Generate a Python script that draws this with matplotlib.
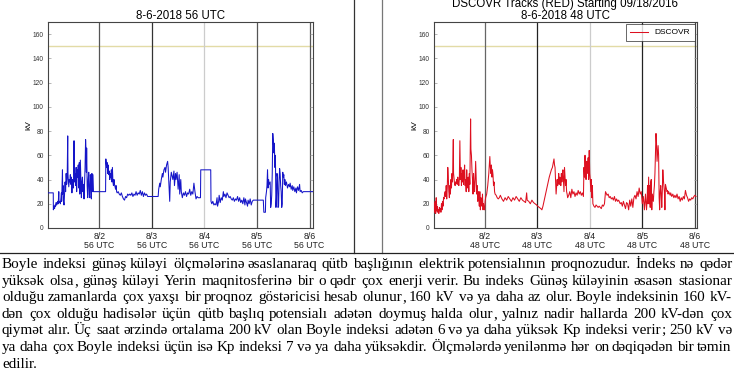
import matplotlib
matplotlib.use("Agg")
import matplotlib.pyplot as plt

# ---------------- data ----------------
tick_pos = [1, 2, 3, 4, 5]
tick_days = ["8/2", "8/3", "8/4", "8/5", "8/6"]
left_title = "8-6-2018 56 UTC"
right_title = "DSCOVR Tracks (RED) Starting 09/18/2016\n8-6-2018 48 UTC"
left_suffix = "56 UTC"
right_suffix = "48 UTC"
threshold = 150
ylabel = "kV"
legend_label = "DSCOVR"

blue_t = [0.03, 0.125, 0.127, 0.14, 0.15, 0.16, 0.17, 0.18, 0.19, 0.20, 0.21, 0.22, 0.23, 0.235, 0.25,
          0.26, 0.27, 0.28, 0.285, 0.29, 0.30, 0.305, 0.31, 0.32, 0.33, 0.34, 0.35, 0.36, 0.37, 0.38,
          0.39, 0.40, 0.405, 0.41, 0.42, 0.43, 0.44, 0.45, 0.46, 0.47, 0.48, 0.49, 0.50, 0.51, 0.52,
          0.525, 0.53, 0.54, 0.55, 0.56, 0.57, 0.58, 0.59, 0.60, 0.61, 0.62, 0.63, 0.64, 0.65, 0.66,
          0.67, 0.68, 0.69, 0.70, 0.71, 0.72, 0.73, 0.74, 0.75, 0.755, 0.76, 0.77, 0.78, 0.79, 0.80,
          0.81, 0.82, 0.83, 0.84, 0.85, 0.86, 0.87, 0.88, 0.89, 0.94, 1.12, 1.125, 1.14, 1.15, 1.16,
          1.17, 1.18, 1.19, 1.20, 1.21, 1.22, 1.23, 1.24, 1.25, 1.26, 1.27, 1.28, 1.29, 1.30, 1.31,
          1.32, 1.33, 1.34, 1.36, 1.38, 1.40, 1.42, 1.44, 1.46, 1.48, 1.50, 1.52, 1.54, 1.56, 1.58,
          1.60, 1.62, 1.64, 1.66, 1.68, 1.70, 1.72, 1.74, 1.76, 1.78, 1.80, 1.82, 1.84, 1.86, 1.88,
          1.90, 1.92, 1.94, 2.12, 2.13, 2.15, 2.16, 2.18, 2.20, 2.21, 2.23, 2.25, 2.26, 2.28, 2.30,
          2.31, 2.32, 2.33, 2.34, 2.35, 2.37, 2.38, 2.40, 2.42, 2.43, 2.45, 2.46, 2.48, 2.50, 2.52,
          2.53, 2.55, 2.56, 2.58, 2.60, 2.62, 2.64, 2.66, 2.68, 2.70, 2.72, 2.74, 2.76, 2.78, 2.80,
          2.82, 2.84, 2.86, 2.88, 2.925, 2.93, 3.12, 3.125, 3.14, 3.16, 3.18, 3.20, 3.22, 3.24, 3.25,
          3.27, 3.28, 3.30, 3.32, 3.34, 3.36, 3.37, 3.39, 3.41, 3.43, 3.45, 3.47, 3.49, 3.51, 3.53,
          3.55, 3.57, 3.59, 3.61, 3.63, 3.65, 3.67, 3.69, 3.71, 3.73, 3.75, 3.77, 3.78, 3.80, 3.82,
          3.83, 3.85, 3.87, 3.89, 3.91, 3.93, 4.12, 4.13, 4.16, 4.165, 4.18, 4.19, 4.20, 4.21, 4.22,
          4.23, 4.25, 4.26, 4.27, 4.28, 4.29, 4.30, 4.31, 4.32, 4.33, 4.34, 4.35, 4.36, 4.37, 4.38,
          4.39, 4.40, 4.41, 4.42, 4.43, 4.44, 4.45, 4.46, 4.47, 4.48, 4.49, 4.50, 4.51, 4.52, 4.53,
          4.54, 4.56, 4.58, 4.60, 4.62, 4.63, 4.65, 4.67, 4.68, 4.70, 4.72, 4.74, 4.75, 4.77, 4.79,
          4.81, 4.82, 4.84, 4.86, 4.88, 5.06]
blue_v = [29, 29, 15, 18, 16, 19, 18, 21, 19, 20, 22, 20, 30, 21, 22,
          20, 24, 29, 22, 30, 48, 28, 35, 22, 19, 28, 38, 30, 45, 36,
          42, 76, 45, 40, 34, 40, 38, 44, 36, 42, 29, 40, 38, 33, 72,
          50, 38, 45, 35, 50, 30, 48, 42, 52, 33, 54, 28, 56, 40, 25,
          38, 42, 30, 36, 24, 38, 50, 73, 62, 46, 66, 35, 25, 40, 46,
          28, 25, 44, 35, 24, 45, 30, 44, 30, 30, 30, 57, 50, 54, 45,
          52, 44, 47, 40, 45, 42, 48, 38, 50, 38, 35, 40, 36, 34, 32,
          35, 30, 29, 30, 28, 27, 29, 26, 24, 23, 26, 25, 28, 27, 28,
          27, 29, 26, 28, 27, 30, 27, 29, 28, 31, 27, 30, 26, 29, 27,
          28, 26, 26, 26, 32, 37, 34, 40, 45, 42, 48, 50, 46, 52, 55,
          50, 40, 30, 22, 38, 46, 44, 40, 47, 35, 45, 40, 46, 32, 44,
          28, 40, 30, 25, 29, 27, 30, 26, 29, 28, 32, 27, 30, 28, 37,
          30, 24, 26, 25, 25, 48, 48, 22, 20, 22, 19, 20, 19, 25, 18,
          22, 27, 21, 25, 23, 30, 26, 28, 25, 29, 27, 25, 26, 24, 23,
          25, 22, 24, 23, 26, 22, 25, 21, 23, 20, 25, 19, 24, 21, 18,
          23, 20, 24, 19, 22, 23, 23, 13, 13, 25, 30, 35, 48, 33, 40,
          36, 38, 17, 20, 27, 45, 78, 72, 62, 70, 50, 60, 17, 25, 45,
          42, 17, 18, 38, 49, 45, 35, 30, 17, 20, 46, 42, 44, 36, 40,
          35, 38, 33, 36, 34, 37, 32, 35, 31, 34, 30, 33, 29, 34, 31,
          36, 30, 31, 29, 30, 30]

red_t = [0.04, 0.05, 0.06, 0.07, 0.08, 0.09, 0.10, 0.11, 0.12, 0.13, 0.14, 0.15, 0.16, 0.17, 0.18,
         0.19, 0.20, 0.21, 0.22, 0.23, 0.24, 0.25, 0.26, 0.27, 0.28, 0.29, 0.30, 0.31, 0.32, 0.33,
         0.34, 0.35, 0.36, 0.37, 0.38, 0.39, 0.405, 0.41, 0.42, 0.43, 0.44, 0.45, 0.46, 0.47, 0.48,
         0.49, 0.50, 0.51, 0.52, 0.53, 0.54, 0.55, 0.56, 0.57, 0.58, 0.59, 0.60, 0.61, 0.62, 0.63,
         0.64, 0.65, 0.66, 0.67, 0.68, 0.69, 0.70, 0.71, 0.72, 0.734, 0.74, 0.75, 0.76, 0.77, 0.78,
         0.79, 0.80, 0.81, 0.82, 0.83, 0.84, 0.85, 0.86, 0.87, 0.88, 0.89, 0.90, 0.91, 0.92, 0.93,
         0.94, 0.95, 0.96, 0.97, 0.98, 0.99, 1.00, 1.01, 1.02, 1.04, 1.06, 1.08, 1.10, 1.11, 1.12,
         1.13, 1.14, 1.15, 1.16, 1.17, 1.18, 1.19, 1.20, 1.22, 1.24, 1.26, 1.28, 1.30, 1.33, 1.36,
         1.39, 1.42, 1.45, 1.48, 1.51, 1.54, 1.57, 1.60, 1.63, 1.66, 1.69, 1.72, 1.75, 1.78, 1.80,
         1.81, 1.84, 1.87, 1.90, 1.93, 1.96, 1.99, 2.01, 2.04, 2.07, 2.09, 2.11, 2.13, 2.15, 2.17,
         2.19, 2.21, 2.23, 2.25, 2.27, 2.29, 2.31, 2.32, 2.33, 2.34, 2.35, 2.36, 2.37, 2.38, 2.39,
         2.40, 2.41, 2.42, 2.43, 2.44, 2.45, 2.46, 2.47, 2.48, 2.49, 2.51, 2.52, 2.53, 2.54, 2.55,
         2.56, 2.57, 2.58, 2.60, 2.62, 2.64, 2.66, 2.68, 2.70, 2.72, 2.74, 2.76, 2.78, 2.80, 2.82,
         2.84, 2.86, 2.88, 2.89, 2.90, 2.91, 2.92, 2.93, 2.94, 2.95, 2.96, 2.97, 2.98, 2.99, 3.00,
         3.01, 3.02, 3.03, 3.04, 3.05, 3.06, 3.08, 3.10, 3.12, 3.14, 3.16, 3.18, 3.20, 3.22, 3.24,
         3.26, 3.28, 3.30, 3.33, 3.35, 3.37, 3.39, 3.41, 3.43, 3.45, 3.47, 3.49, 3.51, 3.53, 3.55,
         3.58, 3.60, 3.62, 3.64, 3.66, 3.68, 3.70, 3.72, 3.74, 3.76, 3.78, 3.80, 3.82, 3.84, 3.86,
         3.88, 3.90, 3.92, 3.94, 3.96, 3.98, 4.00, 4.02, 4.04, 4.06, 4.08, 4.09, 4.10, 4.11, 4.12,
         4.13, 4.14, 4.15, 4.16, 4.17, 4.18, 4.19, 4.20, 4.21, 4.22, 4.23, 4.24, 4.25, 4.26, 4.27,
         4.28, 4.29, 4.30, 4.31, 4.32, 4.33, 4.34, 4.35, 4.36, 4.37, 4.38, 4.39, 4.40, 4.41, 4.42,
         4.43, 4.44, 4.45, 4.46, 4.47, 4.48, 4.49, 4.50, 4.51, 4.52, 4.53, 4.54, 4.56, 4.58, 4.60,
         4.62, 4.64, 4.66, 4.68, 4.70, 4.72, 4.74, 4.76, 4.78, 4.80, 4.82, 4.84, 4.86, 4.88, 4.90,
         4.92, 4.94, 4.96, 4.98, 5.00, 5.02]
red_v = [20, 13, 22, 12, 25, 14, 18, 13, 15, 12, 17, 14, 16, 13, 20,
         15, 22, 18, 25, 24, 28, 30, 26, 35, 24, 33, 50, 42, 30, 25,
         35, 28, 40, 33, 45, 38, 73, 45, 40, 36, 35, 38, 37, 40, 36,
         42, 38, 35, 40, 72, 40, 50, 35, 45, 38, 48, 36, 42, 52, 35,
         40, 30, 48, 36, 33, 42, 30, 45, 36, 90, 65, 60, 48, 40, 28,
         45, 36, 30, 40, 55, 40, 28, 35, 22, 30, 25, 18, 30, 15, 25,
         20, 18, 28, 15, 20, 16, 15, 22, 25, 28, 35, 45, 59, 50, 45,
         52, 42, 48, 44, 35, 38, 30, 28, 27, 25, 24, 25, 27, 24, 22,
         25, 23, 26, 24, 22, 25, 23, 26, 24, 22, 25, 23, 22, 21, 29,
         23, 22, 20, 23, 21, 20, 19, 18, 17, 16, 15, 18, 22, 26, 30,
         34, 38, 42, 45, 48, 50, 55, 57, 52, 50, 40, 28, 34, 40, 35,
         38, 45, 36, 42, 40, 35, 45, 38, 44, 48, 30, 50, 42, 35, 40,
         30, 28, 25, 27, 30, 25, 32, 28, 30, 26, 29, 27, 31, 28, 30,
         27, 29, 26, 50, 42, 60, 48, 40, 55, 45, 50, 58, 40, 64, 45,
         40, 30, 40, 25, 35, 20, 18, 17, 19, 18, 17, 18, 17, 16, 19,
         18, 20, 30, 27, 28, 25, 26, 24, 25, 23, 26, 22, 24, 22, 23,
         20, 21, 18, 22, 19, 16, 21, 20, 15, 23, 18, 24, 17, 25, 27,
         24, 30, 26, 33, 28, 30, 20, 26, 15, 28, 15, 22, 35, 20, 42,
         20, 35, 17, 38, 40, 15, 28, 25, 22, 30, 35, 45, 60, 78, 70,
         55, 62, 68, 60, 25, 15, 30, 35, 28, 17, 30, 48, 40, 35, 30,
         15, 36, 34, 32, 30, 31, 28, 30, 29, 28, 27, 29, 26, 28, 25,
         27, 25, 28, 24, 26, 22, 25, 23, 26, 24, 31, 27, 25, 22, 24,
         23, 25, 24, 26, 27, 26]

left_vline_colors = ["#555555", "#333333", "#cccccc", "#555555", "#555555"]
right_vline_colors = ["#666666", "#222222", "#cccccc", "#222222", "#444444"]

paragraph_lines = [
    "Boyle indeksi günəş küləyi ölçmələrinə əsaslanaraq qütb başlığının elektrik potensialının proqnozudur. İndeks nə qədər",
    "yüksək olsa, günəş küləyi Yerin maqnitosferinə bir o qədr çox enerji verir. Bu indeks Günəş küləyinin əsasən stasionar",
    "olduğu zamanlarda çox yaxşı bir proqnoz göstəricisi hesab olunur, 160 kV və ya daha az olur. Boyle indeksinin 160 kV-",
    "dən çox olduğu hadisələr üçün qütb başlıq potensialı adətən doymuş halda olur, yalnız nadir hallarda 200 kV-dən çox",
    "qiymət alır. Üç saat ərzində ortalama 200 kV olan Boyle indeksi adətən 6 və ya daha yüksək Kp indeksi verir; 250 kV və",
    "ya daha çox Boyle indeksi üçün isə Kp indeksi 7 və ya daha yüksəkdir. Ölçmələrdə yenilənmə hər on dəqiqədən bir təmin",
    "edilir.",
]

# ---------------- figure ----------------
W, H = 734, 372
fig = plt.figure(figsize=(W / 100, H / 100), dpi=100)
sans = ["Liberation Sans", "DejaVu Sans"]
serif = ["Liberation Serif", "DejaVu Serif"]


def px_rect(x0, y0, x1, y1):
    return [x0 / W, 1 - y1 / H, (x1 - x0) / W, (y1 - y0) / H]


def style_axes(ax, xlim, suffix, vcolors):
    ax.set_xlim(*xlim)
    ax.set_ylim(0, 170)
    ax.axhline(threshold, color="#e2dba6", lw=1.0, zorder=1)
    for p, c in zip(tick_pos, vcolors):
        ax.axvline(p, color=c, lw=0.9, zorder=1)
    ax.set_xticks(tick_pos)
    ax.set_xticklabels([f"{d}\n{suffix}" for d in tick_days], fontsize=6.3,
                       family=sans, linespacing=1.0, color="#222222")
    ax.set_yticks(range(0, 161, 20))
    ax.set_yticklabels([str(v) for v in range(0, 161, 20)], fontsize=4.8,
                       family=sans, color="#333333")
    ax.tick_params(axis="x", length=0, pad=3)
    ax.tick_params(axis="y", direction="in", length=2, width=0.5, pad=3,
                   color="#999999", right=True)
    for s in ax.spines.values():
        s.set_color("#444444")
        s.set_linewidth(0.8)
    ax.set_ylabel(ylabel, fontsize=6, family=sans, labelpad=0)


axL = fig.add_axes(px_rect(48, 22, 313, 228))
style_axes(axL, (0.025, 5.065), left_suffix, left_vline_colors)
axL.plot(blue_t, blue_v, color="#1515c8", lw=0.75, zorder=3)
axL.set_title(left_title, fontsize=8.3, family=sans, pad=2.5)

axR = fig.add_axes(px_rect(434, 22, 697, 228))
style_axes(axR, (0.038, 5.04), right_suffix, right_vline_colors)
axR.plot(red_t, red_v, color="#dd1020", lw=0.75, zorder=3, label=legend_label)
axR.set_title(right_title, fontsize=8.3, family=sans, pad=2.5, linespacing=0.95)
leg = axR.legend(loc="upper right", prop={"family": sans, "size": 6},
                 frameon=True, fancybox=False, borderpad=0.5, handlelength=2.2,
                 borderaxespad=0.3)
leg.get_frame().set_edgecolor("#222222")
leg.get_frame().set_linewidth(0.6)

# table rules
fig.add_artist(plt.Line2D([354 / W, 354 / W], [1 - 253 / H, 1], color="#333333", lw=0.9))
fig.add_artist(plt.Line2D([382 / W, 382 / W], [1 - 253 / H, 1], color="#777777", lw=0.9))
fig.add_artist(plt.Line2D([0, 1], [1 - 253 / H, 1 - 253 / H], color="#222222", lw=0.9))

# justified paragraph (trailing , and ; drawn as separate pieces)
renderer = fig.canvas.get_renderer()
fs = 10.9
x_left, x_right = 2, 732
baseline0 = 268
step = 16.6


def make_piece(s, y):
    t = fig.text(0, y, s, fontsize=fs, family=serif, va="baseline", ha="left")
    return t, t.get_window_extent(renderer).width


for i, line in enumerate(paragraph_lines):
    ypx = round(baseline0 + i * step)
    y = 1 - ypx / H
    words = line.split(" ")
    last = i == len(paragraph_lines) - 1
    if last:
        fig.text(x_left / W, y, line, fontsize=fs, family=serif, va="baseline", ha="left")
        continue
    groups = []
    for w in words:
        parts = []
        if len(w) > 1 and w[-1] in ",;":
            parts.append(make_piece(w[:-1], y))
            parts.append(make_piece(w[-1], y))
        else:
            parts.append(make_piece(w, y))
        groups.append(parts)
    total = sum(wd for g in groups for _, wd in g)
    gap = (x_right - x_left - total) / (len(groups) - 1)
    x = x_left
    for g in groups:
        xx = x
        for t, wd in g:
            t.set_x(round(xx) / W)
            xx += wd
        x = xx + gap

fig.savefig("out.png", dpi=100)
